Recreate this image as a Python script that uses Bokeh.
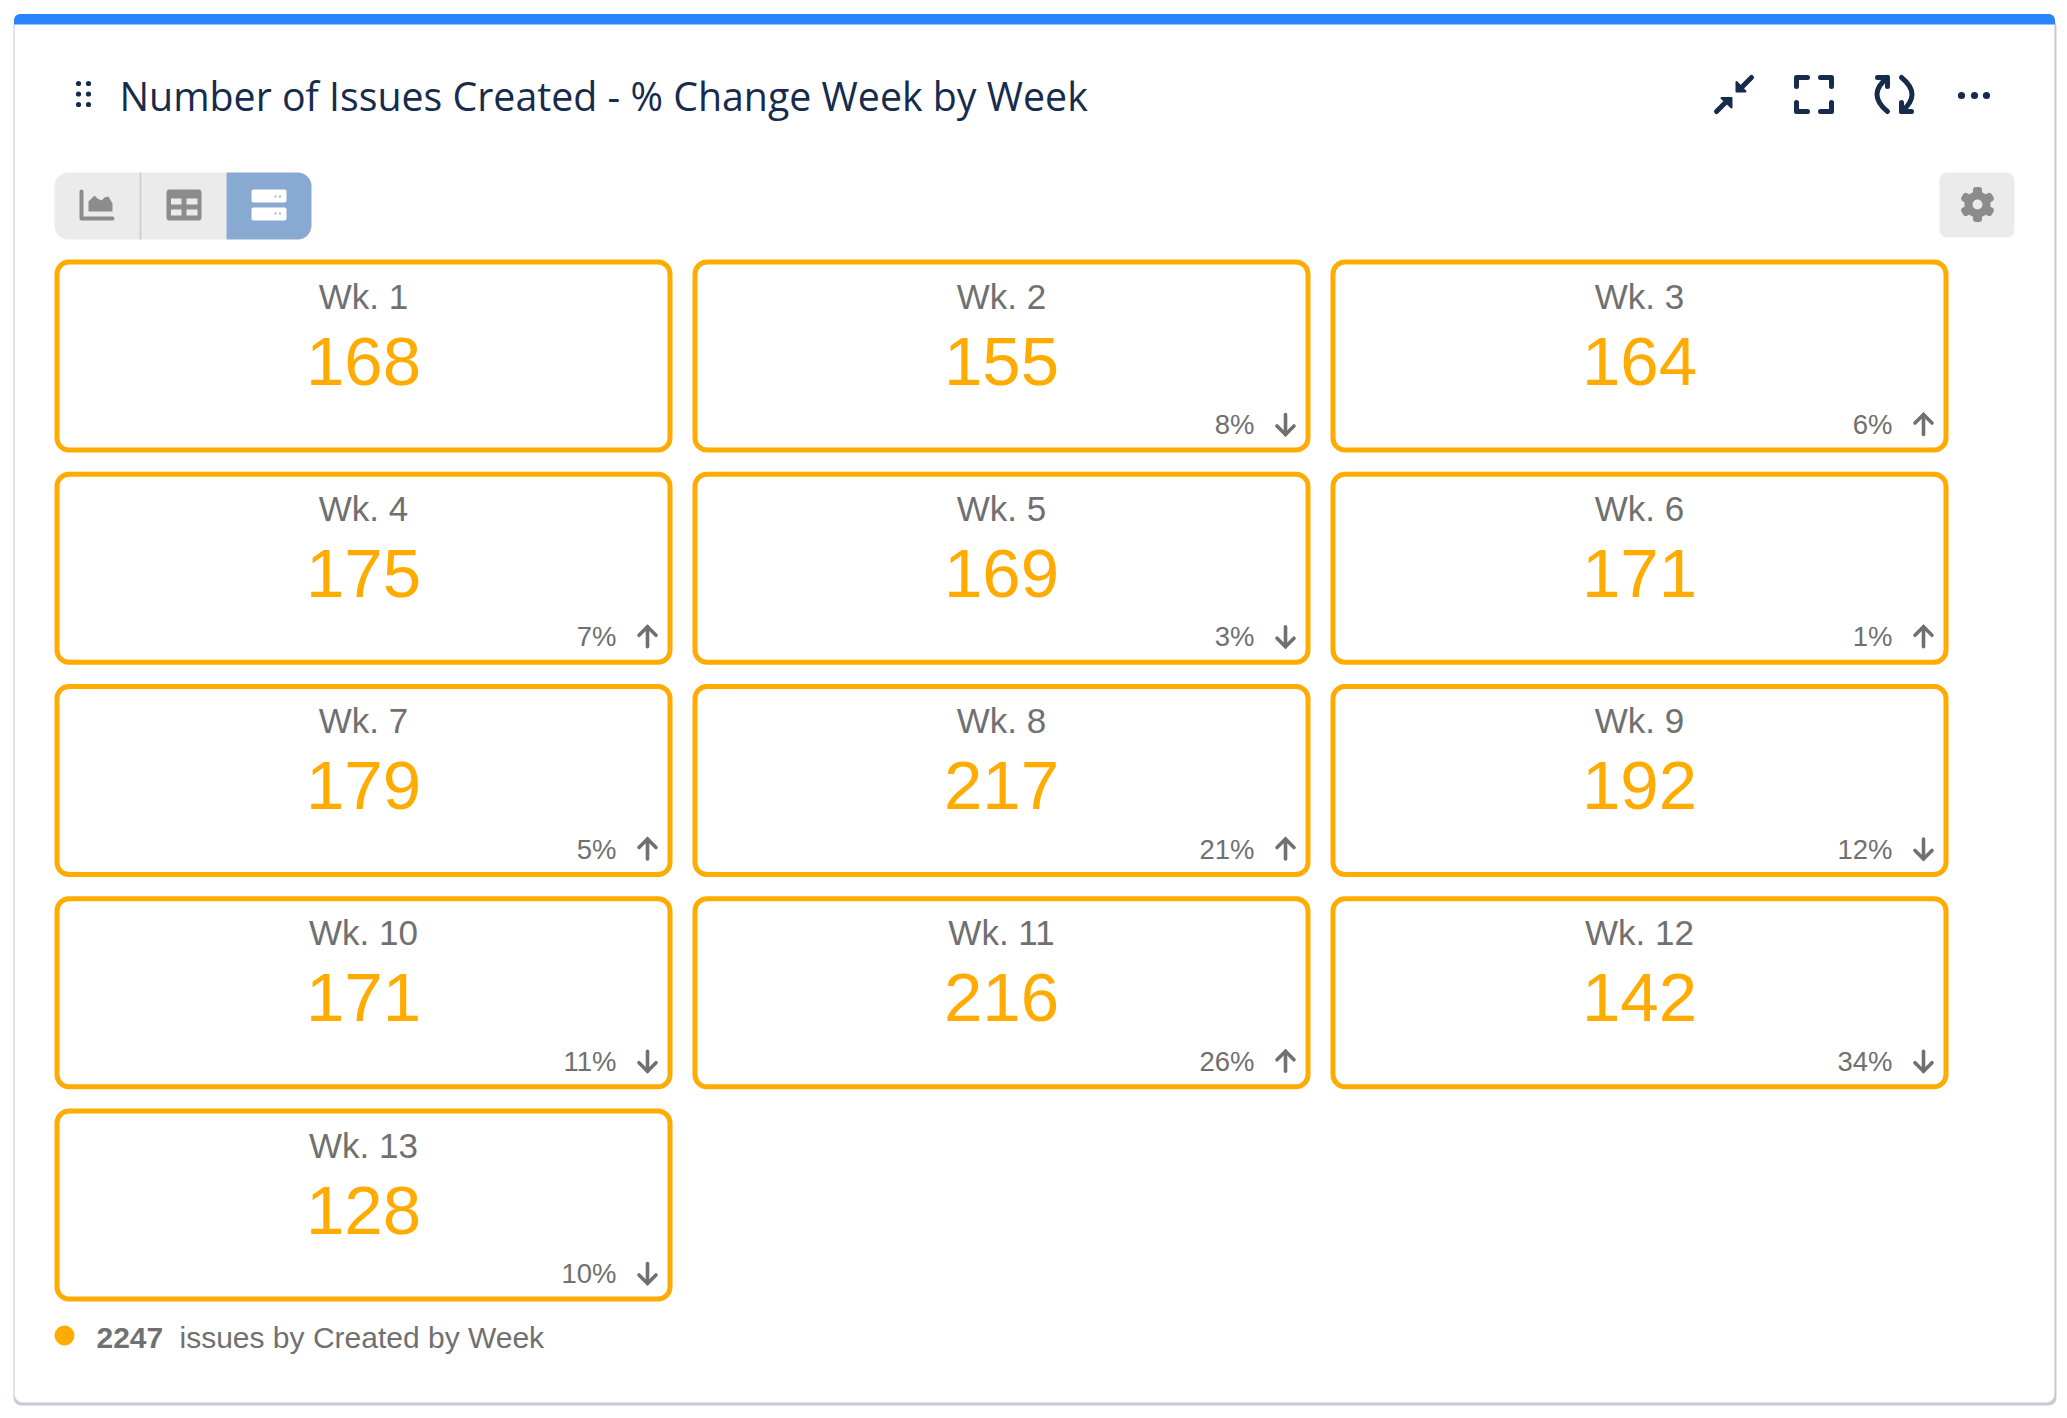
from bokeh.core.properties import value
from bokeh.embed import file_html
from bokeh.models import ColumnDataSource, Range1d
from bokeh.plotting import figure
from bokeh.resources import INLINE

title = "Number of Issues Created - % Change Week by Week"
weeks = ["Wk. 1", "Wk. 2", "Wk. 3", "Wk. 4", "Wk. 5", "Wk. 6", "Wk. 7",
         "Wk. 8", "Wk. 9", "Wk. 10", "Wk. 11", "Wk. 12", "Wk. 13"]
issues = [168, 155, 164, 175, 169, 171, 179, 217, 192, 171, 216, 142, 128]
change_labels = ["", "8%", "6%", "7%", "3%", "1%", "5%", "21%", "12%", "11%", "26%", "34%", "10%"]
change_dirs = [0, -1, 1, 1, -1, 1, 1, 1, -1, -1, 1, -1, -1]
total = "2247"
footer = "issues by Created by Week"

NAVY = "#172b4d"
ORANGE = "#ffab00"
GREY = "#707070"
ICON = "#8c8c8c"
BTN = "#ebebeb"
ACTIVE = "#88aad2"
SANS = value("Liberation Sans")

p = figure(width=2060, height=1410, x_range=Range1d(0, 2060), y_range=Range1d(1410, 0),
           output_backend="svg", toolbar_location=None, min_border=0, outline_line_color=None)
p.axis.visible = False
p.grid.visible = False

# panel
p.quad(left=[13], right=[2056], top=[18], bottom=[1405], fill_color="#c3cad6", line_color=None,
       border_radius=8)
p.quad(left=[14], right=[2054], top=[14], bottom=[1402], fill_color="white", line_color="#dfe1e6",
       line_width=1, border_radius=8)
p.quad(left=[13.5], right=[2054.5], top=[13.5], bottom=[24], fill_color="#2a84ff", line_color=None,
       border_radius=(6, 6, 0, 0))

# header
p.text(x=[119], y=[95.5], text=[title], text_font=value("Open Sans"), text_font_size="39.3px",
       text_color=NAVY, text_baseline="alphabetic")
p.circle(x=[78, 88, 78, 88, 78, 88], y=[83, 83, 93.5, 93.5, 104, 104], radius=2.6,
         fill_color=NAVY, line_color=None)

# compress icon
p.multi_line(xs=[[1716, 1728], [1751, 1739]], ys=[[111, 99], [77, 89]],
             line_color=NAVY, line_width=5, line_cap="round")
p.patch(x=[1721, 1731, 1731], y=[97.5, 97.5, 107], fill_color=NAVY, line_color=NAVY, line_width=2,
        line_join="round")
p.patch(x=[1736, 1736, 1745], y=[81.5, 91, 91], fill_color=NAVY, line_color=NAVY, line_width=2,
        line_join="round")
# fullscreen icon
p.multi_line(xs=[[1796, 1796, 1807], [1820, 1831, 1831], [1796, 1796, 1807], [1820, 1831, 1831]],
             ys=[[86, 77, 77], [77, 77, 86], [102, 111, 111], [111, 111, 102]],
             line_color=NAVY, line_width=5, line_cap="round", line_join="round")
# refresh icon
p.quadratic(x0=[1887], y0=[111], x1=[1887], y1=[77], cx=[1866], cy=[94],
            line_color=NAVY, line_width=5, line_cap="round")
p.quadratic(x0=[1901], y0=[77], x1=[1901], y1=[111], cx=[1922], cy=[94],
            line_color=NAVY, line_width=5, line_cap="round")
p.multi_line(xs=[[1877, 1887, 1887], [1911, 1901, 1901]], ys=[[77, 77, 86], [111, 111, 102]],
             line_color=NAVY, line_width=5, line_cap="round", line_join="round")
# more icon
p.circle(x=[1961, 1974, 1986], y=[95, 95, 95], radius=3.6, fill_color=NAVY, line_color=None)

# view switcher
p.quad(left=[54], right=[141], top=[172], bottom=[239], fill_color=BTN, line_color=None,
       border_radius=(14, 0, 0, 14))
p.quad(left=[141], right=[226], top=[172], bottom=[239], fill_color=BTN, line_color=None)
p.quad(left=[226], right=[311], top=[172], bottom=[239], fill_color=ACTIVE, line_color=None,
       border_radius=(0, 14, 14, 0))
p.segment(x0=[140], y0=[172], x1=[140], y1=[239], line_color="#cfcfcf", line_width=2)
p.multi_line(xs=[[81, 81, 112]], ys=[[191, 218, 218]], line_color=ICON, line_width=4,
             line_cap="round", line_join="round")
p.patch(x=[88, 88, 94, 97, 101, 104, 108, 112, 112], y=[211, 201, 195, 198, 200, 197, 196, 203, 211],
        fill_color=ICON, line_color=None)
p.quad(left=[166], right=[201], top=[189], bottom=[220], fill_color=ICON, line_color=None, border_radius=3)
p.quad(left=[170.5, 186, 170.5, 186], right=[181, 197, 181, 197], top=[198, 198, 209, 209],
       bottom=[204, 204, 215, 215], fill_color=BTN, line_color=None)
p.quad(left=[251, 251], right=[286, 286], top=[189, 207], bottom=[202, 220], fill_color="white",
       line_color=None, border_radius=2)
p.circle(x=[275, 279.5, 275, 279.5], y=[196, 196, 213, 213], radius=1, fill_color=ACTIVE, line_color=None)

# settings button
p.quad(left=[1939], right=[2014], top=[172], bottom=[237], fill_color=BTN, line_color=None, border_radius=8)
p.rect(x=[1977, 1977, 1977], y=[204, 204, 204], width=[35, 35, 35], height=[9, 9, 9],
       angle=[90, 30, 150], angle_units="deg", fill_color=ICON, line_color=None, border_radius=3)
p.circle(x=[1977], y=[204], radius=9, fill_color="#ebebeb", line_color=ICON, line_width=8)

# tiles, three to a row
lefts = [54 + 638 * (i % 3) for i in range(len(weeks))]
tops = [259 + 212.25 * (i // 3) for i in range(len(weeks))]
# text sits about .37em under its y here, the offsets below allow for that
src = ColumnDataSource(dict(
    left=[x + 2.5 for x in lefts], right=[x + 615.5 for x in lefts],
    top=[y + 2.5 for y in tops], bottom=[y + 190.5 for y in tops],
    cx=[x + 309 for x in lefts],
    label_y=[y + 36.5 for y in tops], value_y=[y + 101.5 for y in tops], change_y=[y + 165 for y in tops],
    change_x=[x + 562 for x in lefts],
    week=weeks, value=[str(v) for v in issues], change=change_labels,
))
p.quad(left="left", right="right", top="top", bottom="bottom", source=src, fill_color="white",
       line_color=ORANGE, line_width=5, border_radius=12)
p.text(x="cx", y="label_y", text="week", source=src, text_font=SANS, text_font_size="35px",
       text_color=GREY, text_align="center", text_baseline="alphabetic")
p.text(x="cx", y="value_y", text="value", source=src, text_font=SANS, text_font_size="69px",
       text_color=ORANGE, text_align="center", text_baseline="alphabetic")
p.text(x="change_x", y="change_y", text="change", source=src, text_font=SANS, text_font_size="27.5px",
       text_color=GREY, text_align="right", text_baseline="alphabetic")

# change arrows
arrows_x, arrows_y = [], []
for i, d in enumerate(change_dirs):
    if d == 0:
        continue
    ax = lefts[i] + 593
    tip = tops[i] + (155 if d > 0 else 175)
    tail = tops[i] + (175 if d > 0 else 155)
    arrows_x += [[ax, ax], [ax - 8.5, ax, ax + 8.5]]
    arrows_y += [[tip, tail], [tip + 8.5 * d, tip, tip + 8.5 * d]]
p.multi_line(xs=arrows_x, ys=arrows_y, line_color=GREY, line_width=3.6, line_join="miter", line_cap="round")

# footer
p.circle(x=[64], y=[1335], radius=10, fill_color=ORANGE, line_color=None)
p.text(x=[96], y=[1337], text=[total], text_font=SANS, text_font_style="bold", text_font_size="30px",
       text_color=GREY, text_baseline="alphabetic")
p.text(x=[179], y=[1337], text=[footer], text_font=SANS, text_font_size="30px",
       text_color=GREY, text_baseline="alphabetic")

open("out.html", "w").write(file_html(p, INLINE))
